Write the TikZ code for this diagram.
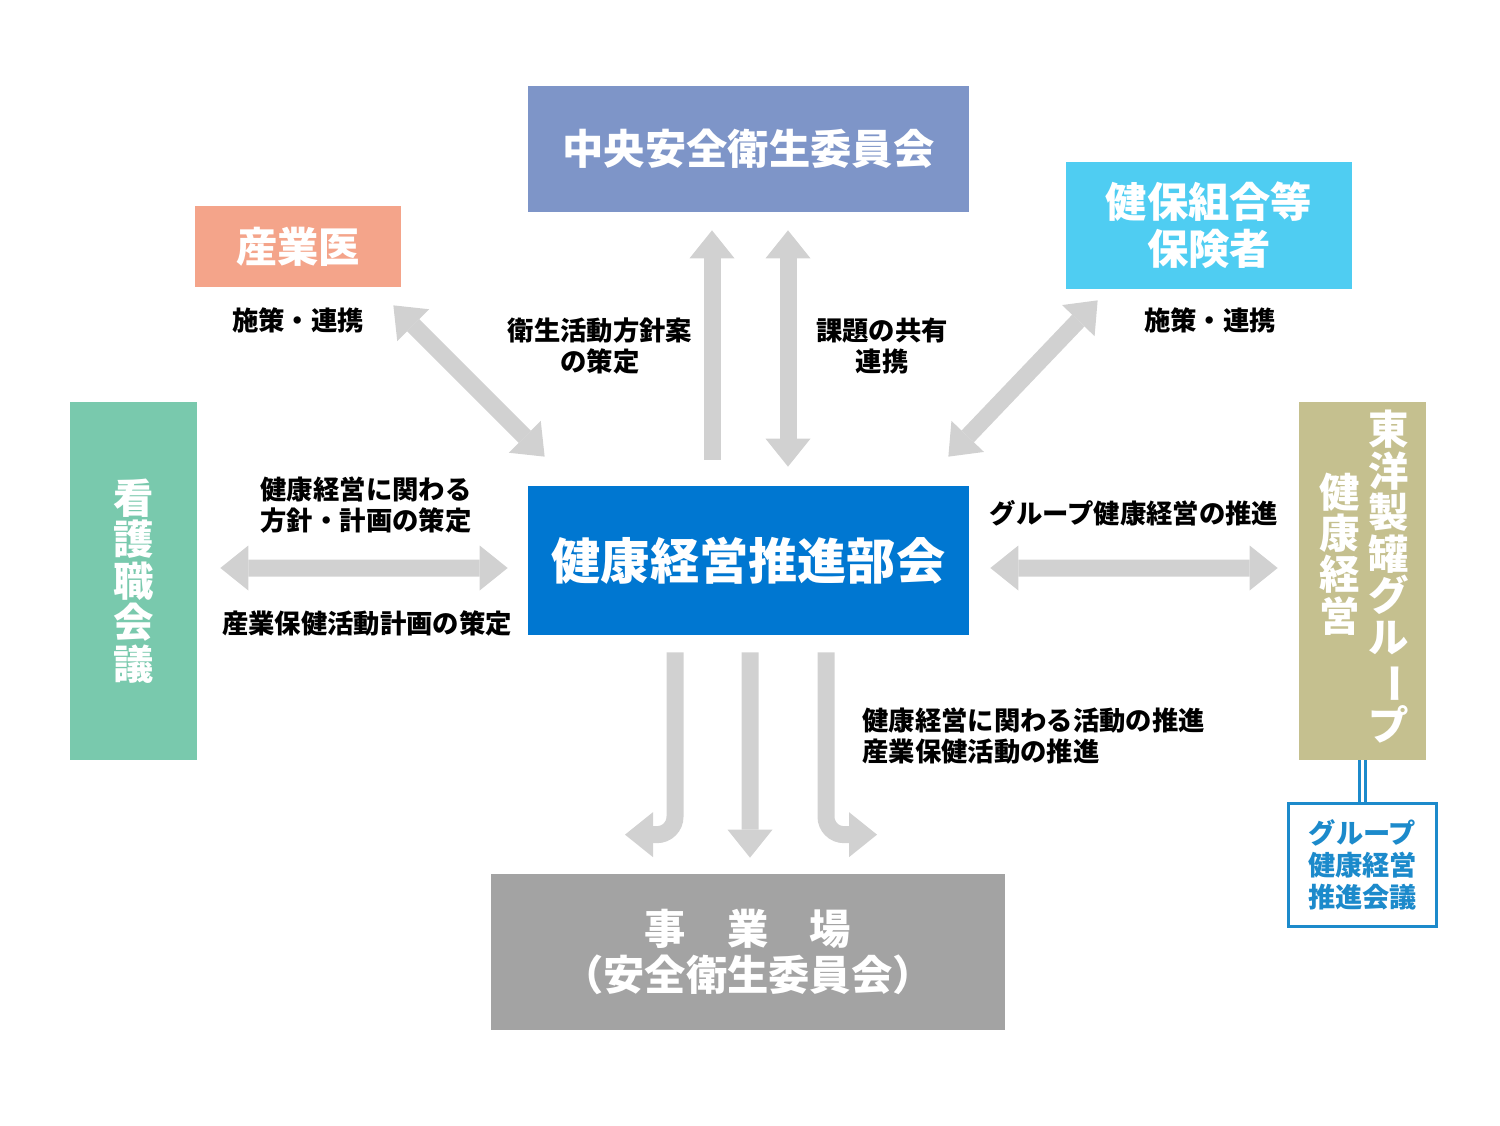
\documentclass[tikz,border=0pt]{standalone}
\usepackage{fontspec}
\setmainfont{Noto Sans CJK JP}
\usetikzlibrary{arrows.meta}
\usepackage{xcolor}
\definecolor{chuoblue}{HTML}{7E95C8}
\definecolor{doctorpink}{HTML}{F4A48A}
\definecolor{kenposky}{HTML}{4FCDF2}
\definecolor{nursegreen}{HTML}{79C9AD}
\definecolor{bukaiblue}{HTML}{0077D1}
\definecolor{groupkhaki}{HTML}{C5C08F}
\definecolor{sitegray}{HTML}{A3A3A3}
\definecolor{arrowgray}{HTML}{D1D1D1}
\definecolor{groupblue}{HTML}{1C8ACB}

\begin{document}
\begin{tikzpicture}[
x=0.2mm, y=-0.2mm,
>={Triangle[width=9mm,length=5.6mm,line width=0pt]},
every node/.style={inner sep=0pt, align=center},
box/.style={text=white, font=\bfseries\fontsize{23.5}{27}\selectfont},
vbox/.style={text=white, font=\bfseries\fontsize{23}{23.6}\selectfont},
lbl/.style={font=\bfseries\fontsize{15}{18}\selectfont},
garrow/.style={draw=arrowgray, line width=3.4mm},
]
\useasboundingbox (0,0) rectangle (1500,1126);
% nodes
\node[box, fill=chuoblue, minimum width=88.2mm, minimum height=25.2mm] (chuo) at (748.5,149) {中央安全衛生委員会};
\node[box, fill=doctorpink, minimum width=41.2mm, minimum height=16.2mm] (sangyoi) at (298,246.5) {産業医};
\node[box, fill=kenposky, minimum width=57.2mm, minimum height=25.4mm] (kenpo) at (1209,225.5) {健保組合等\\保険者};
\node[vbox, fill=nursegreen, minimum width=25.4mm, minimum height=71.6mm] (kango) at (133.5,581) {看\\護\\職\\会\\議};
\node[box, fill=bukaiblue, minimum width=88.2mm, minimum height=29.8mm, font=\bfseries\fontsize{28}{30}\selectfont] (bukai) at (748.5,560.5) {健康経営推進部会};
\node[fill=groupkhaki, minimum width=25.4mm, minimum height=71.6mm] (toyo) at (1362.5,581) {};
\node[vbox] (toyo-r) at (1389,577) {東\\洋\\製\\罐\\グ\\ル\\\rotatebox[origin=c]{-90}{ー}\\プ};
\node[vbox] (toyo-l) at (1340,554) {健\\康\\経\\営};
\node[draw=groupblue, line width=0.6mm, fill=white, text=groupblue, minimum width=29.6mm, minimum height=24.6mm, font=\bfseries\fontsize{15.5}{18.4}\selectfont] (gkaigi) at (1362.5,865) {グループ\\健康経営\\推進会議};
\node[box, fill=sitegray, minimum width=102.8mm, minimum height=31.2mm, font=\bfseries\fontsize{23.5}{26.6}\selectfont] (jigyo) at (748,952) {事　業　場\\（安全衛生委員会）};

% labels
\node[lbl] (sisaku-l) at (298,320) {施策・連携};
\node[lbl] (sisaku-r) at (1210,320) {施策・連携};
\node[lbl] (eisei) at (600,346) {衛生活動方針案\\の策定};
\node[lbl] (kadai) at (882,346) {課題の共有\\連携};
\node[lbl] (hoshin) at (366,505) {健康経営に関わる\\方針・計画の策定};
\node[lbl] (keikaku) at (367,623) {産業保健活動計画の策定};
\node[lbl] (gsuishin) at (1134,513) {グループ健康経営の推進};
\node[lbl, anchor=west, align=left] (katsudo) at (862,736) {健康経営に関わる活動の推進\\産業保健活動の推進};

% arrows
\draw[garrow,->] ([shift={(-36.5,-26)}]bukai.north) -- ([shift={(-36.5,18)}]chuo.south);
\draw[garrow,<->] ([shift={(39.5,-19)}]bukai.north) -- ([shift={(39.5,18)}]chuo.south);
\draw[garrow,<->] ([shift={(-8,18)}]sangyoi.south east) -- ([shift={(17,-29)}]bukai.north west);
\draw[garrow,<->] ([shift={(32,11)}]kenpo.south west) -- ([shift={(-21,-29)}]bukai.north east);
\draw[garrow,<->] ([shift={(23,-13)}]kango.east) -- ([shift={(-20,7.5)}]bukai.west);
\draw[garrow,<->] ([shift={(21,7.5)}]bukai.east) -- ([shift={(-21,-13)}]toyo.west);
\draw[garrow,->] ([shift={(1.5,17)}]bukai.south) -- ([shift={(2,-16)}]jigyo.north);
\draw[garrow,->,rounded corners=3.6mm] ([shift={(-73.5,17)}]bukai.south) |- ([shift={(-123,-39)}]jigyo.north);
\draw[garrow,->,rounded corners=3.6mm] ([shift={(77.5,17)}]bukai.south) |- ([shift={(129,-39)}]jigyo.north);
\draw[draw=groupblue, double=white, line width=0.7mm, double distance=0.5mm] (toyo.south) -- (gkaigi.north);
\end{tikzpicture}
\end{document}
